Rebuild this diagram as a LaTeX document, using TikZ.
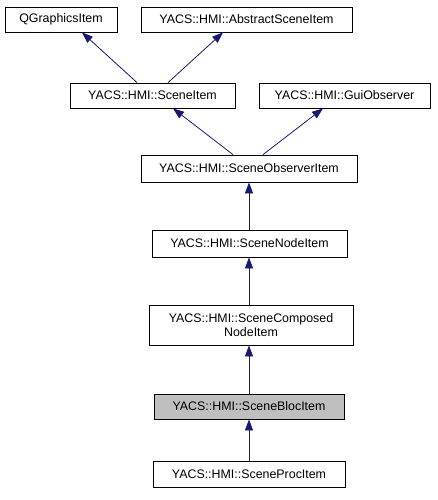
\documentclass[tikz,border=0pt]{standalone}
\usepackage{fontspec}
\setmainfont{Liberation Sans}
\usetikzlibrary{arrows.meta,calc}
\definecolor{edgeblue}{RGB}{25,25,112}
\definecolor{hilite}{RGB}{191,191,191}
\tikzset{
  cls/.style={draw=black, line width=0.8pt, fill=white, inner sep=0pt, align=center,
    font=\fontsize{12.4}{14}\selectfont, minimum height=25pt},
  inh/.style={draw=edgeblue, line width=0.8pt, {Triangle[length=11pt,width=8pt]}-}
}
\begin{document}
\begin{tikzpicture}[x=1pt,y=-1pt]
\useasboundingbox (0,0) rectangle (437,500);
\node[cls, minimum width=112pt] (q) at (61,19.5) {QGraphicsItem};
\node[cls, minimum width=211pt] (a) at (246.5,19.5) {YACS::HMI::AbstractSceneItem};
\node[cls, minimum width=165pt] (si) at (152.5,95.5) {YACS::HMI::SceneItem};
\node[cls, minimum width=171pt] (go) at (344.5,95.5) {YACS::HMI::GuiObserver};
\node[cls, minimum width=216pt, minimum height=27pt] (so) at (249,168.5) {YACS::HMI::SceneObserverItem};
\node[cls, minimum width=195pt, minimum height=27pt] (sn) at (249.5,243.5) {YACS::HMI::SceneNodeItem};
\node[cls, minimum width=204pt, minimum height=40pt] (sc) at (251,325) {YACS::HMI::SceneComposed\\NodeItem};
\node[cls, minimum width=190pt, fill=hilite] (sb) at (249,406.5) {YACS::HMI::SceneBlocItem};
\node[cls, minimum width=192pt, minimum height=26pt] (sp) at (249,474) {YACS::HMI::SceneProcItem};
\draw[inh] ($(q.south)+(21,0)$) -- ($(si.north)+(-15.5,0)$);
\draw[inh] ($(a.south)+(-23.5,0)$) -- ($(si.north)+(15.5,0)$);
\draw[inh] ($(si.south)+(20.5,0)$) -- ($(so.north)+(-16,0)$);
\draw[inh] ($(go.south)+(-21.5,0)$) -- ($(so.north)+(14,0)$);
\draw[inh] (so.south) -- (so.south |- sn.north);
\draw[inh] (so.south |- sn.south) -- (so.south |- sc.north);
\draw[inh] (so.south |- sc.south) -- (so.south |- sb.north);
\draw[inh] (so.south |- sb.south) -- (so.south |- sp.north);
\end{tikzpicture}
\end{document}
